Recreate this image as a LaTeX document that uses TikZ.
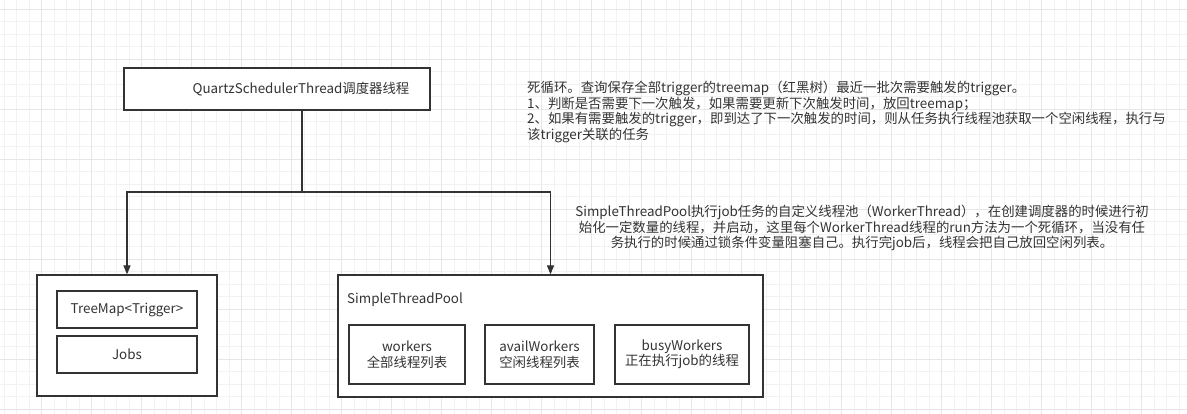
\documentclass[tikz,border=0pt]{standalone}
\usepackage{fontspec}
\setmainfont{Noto Sans CJK SC}
\usetikzlibrary{arrows.meta}
\definecolor{linegray}{HTML}{333333}
\definecolor{textgray}{HTML}{333333}
\definecolor{gridminor}{HTML}{F2F2F2}
\definecolor{gridmajor}{HTML}{E6E6E6}

\tikzset{
  box/.style={draw=linegray, line width=1.2pt, fill=white, inner sep=0pt},
  txt/.style={text=textgray, inner sep=0pt, font=\fontsize{13.4}{15.5}\selectfont},
  arr/.style={draw=linegray, line width=1.2pt, -{Triangle[length=9pt,width=7pt]}}
}

\begin{document}
\begin{tikzpicture}[x=1pt, y=-1pt]
  \useasboundingbox (0,0) rectangle (1187,414);
  % grid
  \foreach \gx in {0,...,95} \draw[gridminor, line width=0.8pt] (4.2+12.5*\gx,0) -- (4.2+12.5*\gx,414);
  \foreach \gy in {0,...,32} \draw[gridminor, line width=0.8pt] (0,9.3+12.5*\gy) -- (1187,9.3+12.5*\gy);
  \foreach \gx in {0,...,23} \draw[gridmajor, line width=0.8pt] (41.7+50*\gx,0) -- (41.7+50*\gx,414);
  \foreach \gy in {0,...,8} \draw[gridmajor, line width=0.8pt] (0,9.3+50*\gy) -- (1187,9.3+50*\gy);

  % scheduler thread
  \node[box, minimum width=306pt, minimum height=42pt] (qst) at (277,89) {};
  \node[txt] (qstlabel) at (301,89) {QuartzSchedulerThread调度器线程};

  % left store
  \node[box, minimum width=180pt, minimum height=121pt] (store) at (127,335.5) {};
  \node[box, txt, minimum width=140pt, minimum height=37pt] (treemap) at (127,309.5) {TreeMap<Trigger>};
  \node[box, txt, minimum width=140pt, minimum height=37pt] (jobs) at (127,354.5) {Jobs};

  % thread pool
  \node[box, minimum width=425pt, minimum height=122pt] (pool) at (550.5,336) {};
  \node[txt, anchor=west] (poollabel) at (347,300) {SimpleThreadPool};
  \node[box, txt, align=center, minimum width=116pt, minimum height=59pt] (workers) at (407,354.5) {workers\\全部线程列表};
  \node[box, txt, align=center, minimum width=109pt, minimum height=59pt] (avail) at (539.5,354.5) {availWorkers\\空闲线程列表};
  \node[box, txt, align=center, minimum width=134pt, minimum height=59pt] (busy) at (682,354.5) {busyWorkers\\正在执行job的线程};

  % notes
  \node[txt, align=left, anchor=north west] (loopnote) at (527,81) {死循环。查询保存全部trigger的treemap（红黑树）最近一批次需要触发的trigger。\\
    1、判断是否需要下一次触发，如果需要更新下次触发时间，放回treemap；\\
    2、如果有需要触发的trigger，即到达了下一次触发的时间，则从任务执行线程池获取一个空闲线程，执行与\\
    该trigger关联的任务};
  \node[txt, align=center] (poolnote) at (862,228) {SimpleThreadPool执行job任务的自定义线程池（WorkerThread），在创建调度器的时候进行初\\
    始化一定数量的线程，并启动，这里每个WorkerThread线程的run方法为一个死循环，当没有任\\
    务执行的时候通过锁条件变量阻塞自己。执行完job后，线程会把自己放回空闲列表。};

  % connectors
  \coordinate (split) at (302,192);
  \draw[linegray, line width=1.2pt] (qst.south -| split) -- (split);
  \draw[arr] (split) -| (store.north);
  \draw[arr] (split) -| (pool.north);
\end{tikzpicture}
\end{document}
